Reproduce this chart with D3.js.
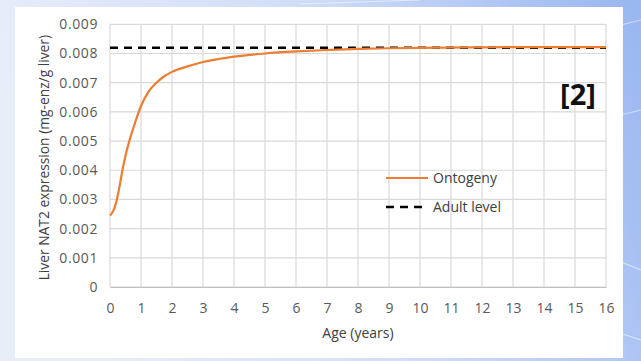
<!DOCTYPE html>
<html>
<head>
<meta charset="utf-8">
<script src="https://cdn.jsdelivr.net/npm/d3@7"></script>
<style>
  html, body { margin: 0; padding: 0; }
  body { width: 641px; height: 361px; overflow: hidden; }
  svg { display: block; }
</style>
</head>
<body>
<svg id="chart" width="641" height="361"></svg>
<script>
// Liver NAT2 ontogeny: age (years) vs expression (mg-enz/g liver)
const ageYears = [0, 0.1, 0.2, 0.3, 0.4, 0.5, 0.65, 0.8, 1.0, 1.25, 1.5, 1.75, 2, 2.5, 3, 3.5, 4, 5, 6, 7, 8, 9, 10, 12, 14, 16];
const ontogeny = [0.00245, 0.0026, 0.0029, 0.0034, 0.0040, 0.0045, 0.0051, 0.0056, 0.0062, 0.0067, 0.00700, 0.00722, 0.00737, 0.00756, 0.00771, 0.00781, 0.00789, 0.00800, 0.00807, 0.00812, 0.00816, 0.00818, 0.00819, 0.00821, 0.00822, 0.00822];
const adultLevel = 0.0082;
const xTicks = d3.range(0, 17, 1);
const yTicks = [0, 0.001, 0.002, 0.003, 0.004, 0.005, 0.006, 0.007, 0.008, 0.009];
const seriesNames = ["Ontogeny", "Adult level"];

const svg = d3.select("#chart");
const W = 641, H = 361;

// backdrop
const defs = svg.append("defs");
const bg = defs.append("linearGradient").attr("id", "bg").attr("x1", "0").attr("y1", "0.2").attr("x2", "1").attr("y2", "0");
bg.append("stop").attr("offset", "0").attr("stop-color", "#e8edfa");
bg.append("stop").attr("offset", "0.5").attr("stop-color", "#d0dcf7");
bg.append("stop").attr("offset", "1").attr("stop-color", "#98b6f1");
svg.append("rect").attr("width", W).attr("height", H).attr("fill", "url(#bg)");
// faint light streaks on the right
[[560, 40, 641, 20], [600, 120, 641, 110], [590, 250, 641, 270], [610, 330, 641, 340], [300, 4, 420, 0]].forEach(s => {
  svg.append("line").attr("x1", s[0]).attr("y1", s[1]).attr("x2", s[2]).attr("y2", s[3])
    .attr("stroke", "#ffffff").attr("stroke-opacity", 0.5).attr("stroke-width", 1.2);
});

// white card
svg.append("rect").attr("x", 15).attr("y", 7).attr("width", 608).attr("height", 351).attr("fill", "#ffffff");

const m = { left: 110, right: 606, top: 24.3, bottom: 287 };
const x = d3.scaleLinear().domain([0, 16]).range([m.left, m.right]);
const y = d3.scaleLinear().domain([0, 0.009]).range([m.bottom, m.top]);

const font = "'Open Sans', Lato, sans-serif";

// gridlines
const grid = svg.append("g");
grid.selectAll(".gx").data(xTicks).join("line")
  .attr("x1", d => x(d)).attr("x2", d => x(d)).attr("y1", m.top).attr("y2", m.bottom)
  .attr("stroke", "#d9d9d9").attr("stroke-width", 1.2);
grid.selectAll(".gy").data(yTicks).join("line")
  .attr("x1", m.left).attr("x2", m.right).attr("y1", d => y(d)).attr("y2", d => y(d))
  .attr("stroke", "#d9d9d9").attr("stroke-width", 1.2);

// axes (labels only, lines come from the grid)
const xAxis = svg.append("g").attr("transform", `translate(0,${m.bottom})`)
  .call(d3.axisBottom(x).tickValues(xTicks).tickFormat(d3.format("d")).tickSize(0).tickPadding(16));
xAxis.select(".domain").attr("stroke", "#bfbfbf").attr("stroke-width", 1.2);
xAxis.selectAll("text").attr("font-family", font).attr("font-size", 14).attr("fill", "#595959");

const yAxis = svg.append("g").attr("transform", `translate(${m.left},0)`)
  .call(d3.axisLeft(y).tickValues(yTicks).tickFormat(d => d === 0 ? "0" : d3.format(".3f")(d)).tickSize(0).tickPadding(12));
yAxis.select(".domain").remove();
yAxis.selectAll("text").attr("font-family", font).attr("font-size", 14).attr("letter-spacing", 0.6).attr("fill", "#595959");

// adult level
svg.append("line")
  .attr("x1", x(0)).attr("x2", x(16)).attr("y1", y(adultLevel)).attr("y2", y(adultLevel))
  .attr("stroke", "#000000").attr("stroke-width", 2.5).attr("stroke-dasharray", "8,6");

// ontogeny curve
const line = d3.line().x((d, i) => x(ageYears[i])).y(d => y(d)).curve(d3.curveMonotoneX);
svg.append("path").datum(ontogeny).attr("d", line)
  .attr("fill", "none").attr("stroke", "#ed7d31").attr("stroke-width", 2.2);

// axis titles
svg.append("text").attr("x", x(8)).attr("y", 338).attr("text-anchor", "middle")
  .attr("font-family", font).attr("font-size", 14).attr("fill", "#404040").text("Age (years)");
svg.append("text").attr("transform", `translate(49,${(m.top + m.bottom) / 2 + 2}) rotate(-90)`)
  .attr("text-anchor", "middle").attr("font-family", font).attr("font-size", 13.8).attr("fill", "#404040")
  .text("Liver NAT2 expression (mg-enz/g liver)");

// legend
const legend = svg.append("g").attr("transform", "translate(386,178)");
legend.append("line").attr("x1", 0).attr("x2", 42).attr("y1", 0).attr("y2", 0)
  .attr("stroke", "#ed7d31").attr("stroke-width", 2.2);
legend.append("text").attr("x", 47).attr("y", 5).attr("font-family", font).attr("font-size", 14)
  .attr("fill", "#404040").text(seriesNames[0]);
legend.append("line").attr("x1", 0).attr("x2", 42).attr("y1", 29).attr("y2", 29)
  .attr("stroke", "#000").attr("stroke-width", 2.5).attr("stroke-dasharray", "8,6");
legend.append("text").attr("x", 47).attr("y", 34).attr("font-family", font).attr("font-size", 14)
  .attr("fill", "#404040").text(seriesNames[1]);

// reference tag
svg.append("text").attr("x", 578).attr("y", 105).attr("text-anchor", "middle")
  .attr("font-family", font).attr("font-weight", "bold").attr("font-size", 29).attr("fill", "#111").text("[2]");
</script>
</body>
</html>
